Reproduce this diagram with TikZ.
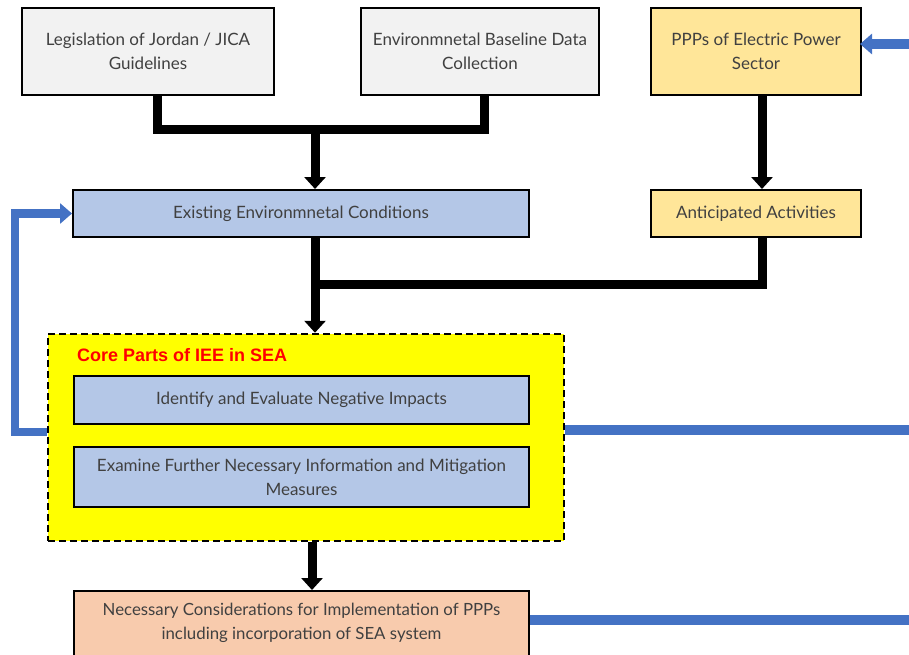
\documentclass[tikz,border=0pt]{standalone}
\usepackage{fontspec}
\setmainfont{Lato}
\newfontfamily\titlefont{Liberation Sans}
\usetikzlibrary{arrows.meta}

\definecolor{boxgray}{HTML}{F2F2F2}
\definecolor{boxblue}{HTML}{B4C7E7}
\definecolor{boxgold}{HTML}{FFE699}
\definecolor{boxpeach}{HTML}{F8CBAD}
\definecolor{coreyellow}{HTML}{FFFF00}
\definecolor{flowblue}{HTML}{4472C4}
\definecolor{txtgray}{HTML}{404040}

\tikzset{
  box/.style={draw=black, line width=2pt, inner sep=0pt, align=center,
    text=txtgray, font=\fontsize{17}{24}\selectfont},
  blk/.style={line width=9pt, black},
  blkarrow/.style={blk, -{Triangle[width=21pt,length=12pt]}},
  bluearrow/.style={line width=8.5pt, flowblue, -{Triangle[width=20pt,length=12pt]}},
  blueline/.style={line width=10pt, flowblue},
}

\begin{document}
\begin{tikzpicture}[x=1pt, y=-1pt]
  \path[use as bounding box, clip] (0,0) rectangle (909,655);

  % source boxes
  \node[box, fill=boxgray, minimum width=252pt, minimum height=87pt] (leg) at (148,51.5)
    {Legislation of Jordan / JICA\\Guidelines};
  \node[box, fill=boxgray, minimum width=238pt, minimum height=87pt] (base) at (480,51.5)
    {Environmnetal Baseline Data\\Collection};
  \node[box, fill=boxgold, minimum width=210pt, minimum height=87pt] (ppp) at (756,51.5)
    {PPPs of Electric Power\\Sector};

  % second row
  \node[box, fill=boxblue, minimum width=456pt, minimum height=47pt] (env) at (301,213.5)
    {Existing Environmnetal Conditions};
  \node[box, fill=boxgold, minimum width=210pt, minimum height=47pt] (act) at (756,213.5)
    {Anticipated Activities};

  % core parts container
  \node[draw=black, line width=2.5pt, dash pattern=on 7pt off 4pt, fill=coreyellow,
        minimum width=516pt, minimum height=207pt, inner sep=0pt] (core) at (306,437.5) {};
  \node[anchor=base west, text=red, font=\titlefont\bfseries\fontsize{18}{20}\selectfont,
        inner sep=0pt] (coretitle) at (77,361) {Core Parts of IEE in SEA};
  \node[box, fill=boxblue, minimum width=455pt, minimum height=48pt] (ident) at (301.5,400)
    {Identify and Evaluate Negative Impacts};
  \node[box, fill=boxblue, minimum width=455pt, minimum height=60pt] (exam) at (301.5,477)
    {Examine Further Necessary Information and Mitigation\\Measures};

  % implementation box (runs past the lower edge)
  \node[box, fill=boxpeach, minimum width=455pt, minimum height=90pt, anchor=north] (impl)
    at (301.5,590) {};
  \node[align=center, text=txtgray, inner sep=0pt, font=\fontsize{16.8}{24}\selectfont]
    (impltext) at (301.5,623)
    {Necessary Considerations for Implementation of PPPs\\including incorporation of SEA system};

  % black flow connectors
  \coordinate (j1) at (315,130);
  \coordinate (j2) at (315,284);
  \draw[blk, line join=miter] ([xshift=9]leg.south) |- ([xshift=4]base.south |- j1)
    -- ([xshift=4]base.south);
  \draw[blkarrow] (j1) -- ([xshift=14]env.north);
  \draw[blkarrow] ([xshift=6]ppp.south) -- ([xshift=6]act.north);
  \draw[blkarrow] ([xshift=14]env.south) -- ([xshift=9]core.north);
  \draw[blk, line join=miter] ([xshift=6]act.south) |- (j2);
  \draw[blkarrow] ([xshift=6]core.south) -- ([xshift=10.5]impl.north);

  % blue feedback connectors
  \coordinate (lft) at (15,0);
  \coordinate (outA) at (915,430);
  \coordinate (outB) at (915,620);
  \coordinate (inP) at (915,44);
  \draw[bluearrow, line join=miter] ([yshift=5.5]core.west) -| (lft |- env.west) -- (env.west);
  \draw[blueline] (core.east |- outA) -- (outA);
  \draw[blueline] (impl.east |- outB) -- (outB);
  \draw[bluearrow, line width=10pt] (inP) -- ([xshift=-2]ppp.east |- inP);
\end{tikzpicture}
\end{document}
